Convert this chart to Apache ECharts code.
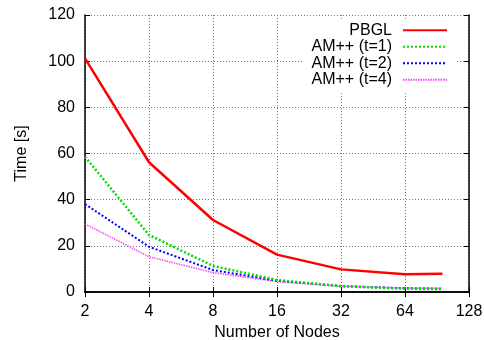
<!DOCTYPE html>
<html><head><meta charset="utf-8">
<script src="https://cdn.jsdelivr.net/npm/echarts@6/dist/echarts.min.js"></script>
<style>html,body{margin:0;padding:0;background:#fff}#c{width:484px;height:340px}</style>
</head><body><div id="c"></div>
<script>
const nodes = [2, 4, 8, 16, 32, 64, 96];
const pbgl = [101.2, 56.2, 31.2, 16.2, 9.8, 7.7, 7.9];
const amT1 = [58.6, 24.7, 11.3, 5.2, 2.5, 1.4, 1.2];
const amT2 = [38.1, 19.6, 9.5, 4.9, 2.6, 1.6, 1.4];
const amT4 = [29.5, 15.3, 8.4, 4.5, 2.5, 1.7, 1.6];
const seriesNames = ['PBGL', 'AM++ (t=1)', 'AM++ (t=2)', 'AM++ (t=4)'];
const xTicks = [2, 4, 8, 16, 32, 64, 128];
const yTicks = [0, 20, 40, 60, 80, 100, 120];

const font = '"Liberation Sans", Arial, sans-serif';
const pair = arr => nodes.map((n, i) => [n, arr[i]]);
const styles = [
  {color: '#ff0000', width: 2.5, type: 'solid'},
  {color: '#00e000', width: 2.5, type: [2, 2]},
  {color: '#0000ff', width: 2, type: [2, 2]},
  {color: '#ff40ff', width: 1.5, type: [1.5, 1]}
];
const datas = [pbgl, amT1, amT2, amT4];

const chart = echarts.init(document.getElementById('c'), null, {renderer: 'canvas'});
const tickCommon = {show: true, inside: true, length: 5, lineStyle: {color: '#000', width: 1}};
chart.setOption({
  animation: false,
  backgroundColor: '#fff',
  textStyle: {fontFamily: font},
  grid: {left: 85, right: 15, top: 15, bottom: 48, containLabel: false, outerBoundsMode: 'none'},
  legend: {
    orient: 'vertical', right: 28, top: 19, align: 'right',
    itemWidth: 44, itemHeight: 10, itemGap: 0,
    backgroundColor: '#fff', padding: [3, 8, 3, 8],
    itemStyle: {opacity: 0},
    textStyle: {fontFamily: font, fontSize: 16, color: '#000', padding: [0, 6, 0, 0], lineHeight: 16.5},
    data: seriesNames
  },
  xAxis: [{
    type: 'log', logBase: 2, min: 2, max: 128, interval: 1,
    name: 'Number of Nodes', nameLocation: 'middle', nameGap: 32,
    nameTextStyle: {fontFamily: font, fontSize: 16, color: '#000'},
    axisLine: {show: true, lineStyle: {color: '#000', width: 1.5}},
    axisTick: tickCommon,
    axisLabel: {fontFamily: font, fontSize: 16, color: '#000', margin: 12,
      formatter: v => { const r = Math.round(v); return xTicks.includes(r) ? String(r) : ''; }},
    splitLine: {show: true, lineStyle: {color: '#777', type: [1, 2], width: 1}}
  }, {
    type: 'log', logBase: 2, min: 2, max: 128, interval: 1, position: 'top',
    axisLine: {show: true, lineStyle: {color: '#000', width: 1.5}},
    axisTick: tickCommon, axisLabel: {show: false}, splitLine: {show: false}
  }],
  yAxis: [{
    type: 'value', min: yTicks[0], max: yTicks[yTicks.length - 1], interval: 20,
    name: 'Time [s]', nameLocation: 'middle', nameGap: 55,
    nameTextStyle: {fontFamily: font, fontSize: 16, color: '#000'},
    axisLine: {show: true, lineStyle: {color: '#000', width: 1.5}},
    axisTick: tickCommon,
    axisLabel: {fontFamily: font, fontSize: 16, color: '#000', margin: 10},
    splitLine: {show: true, lineStyle: {color: '#777', type: [1, 2], width: 1}}
  }, {
    type: 'value', min: yTicks[0], max: yTicks[yTicks.length - 1], interval: 20, position: 'right',
    axisLine: {show: true, lineStyle: {color: '#000', width: 1.5}},
    axisTick: tickCommon, axisLabel: {show: false}, splitLine: {show: false}
  }],
  series: seriesNames.map((name, i) => ({
    name, type: 'line', data: pair(datas[i]), symbol: 'none',
    itemStyle: {color: styles[i].color},
    lineStyle: {color: styles[i].color, width: styles[i].width, type: styles[i].type},
    z: 10 - i
  }))
});
</script></body></html>
